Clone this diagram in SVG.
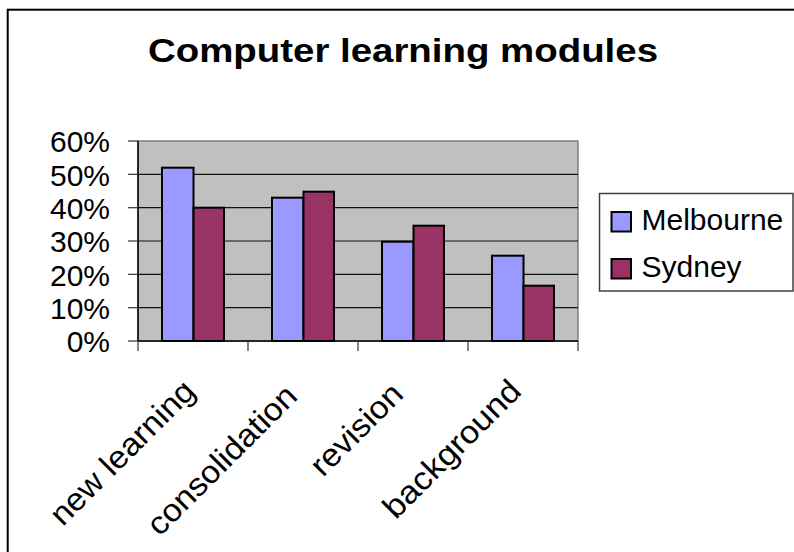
<svg xmlns="http://www.w3.org/2000/svg" width="794" height="552" viewBox="0 0 794 552">
<style>
text{font-family:"Liberation Sans",Arial,sans-serif;fill:#000}
.ylab{font-size:30px;text-anchor:end}
.xlab{font-size:32px;text-anchor:end}
.leg{font-size:30px}
.grid{stroke:#111;stroke-width:1.2}
.tick{stroke:#333;stroke-width:1.2}
.mel{fill:#9999FF;stroke:#000;stroke-width:2}
.syd{fill:#993366;stroke:#000;stroke-width:2}
</style>
<rect x="0" y="0" width="794" height="552" fill="#fff"/>
<rect id="frame" x="7.7" y="9.7" width="800" height="560" fill="none" stroke="#000" stroke-width="2"/>
<g id="title"><text x="148" y="62" font-size="34" font-weight="bold" textLength="510" lengthAdjust="spacingAndGlyphs">Computer learning modules</text></g>
<g id="plot">
<rect x="138" y="141" width="440" height="200" fill="#C0C0C0" stroke="#808080" stroke-width="1.5"/>
<g id="gridlines">
<line class="grid" x1="138" y1="174.3" x2="578" y2="174.3"/>
<line class="grid" x1="138" y1="207.7" x2="578" y2="207.7"/>
<line class="grid" x1="138" y1="241" x2="578" y2="241"/>
<line class="grid" x1="138" y1="274.3" x2="578" y2="274.3"/>
<line class="grid" x1="138" y1="307.7" x2="578" y2="307.7"/>
</g>
</g>
<g id="bars">
<rect class="mel" x="162" y="167.7" width="31.5" height="173.3"/>
<rect class="syd" x="193.5" y="207.7" width="30.5" height="133.3"/>
<rect class="mel" x="272" y="197.7" width="31.5" height="143.3"/>
<rect class="syd" x="303.5" y="191.7" width="30.5" height="149.3"/>
<rect class="mel" x="382" y="241.7" width="31.5" height="99.3"/>
<rect class="syd" x="413.5" y="225.7" width="30.5" height="115.3"/>
<rect class="mel" x="492" y="255.7" width="31.5" height="85.3"/>
<rect class="syd" x="523.5" y="285.7" width="30.5" height="55.3"/>
</g>
<g id="axes">
<line x1="138" y1="141" x2="138" y2="341" stroke="#000" stroke-width="1.5"/>
<line x1="138" y1="341" x2="578" y2="341" stroke="#000" stroke-width="1.5"/>
<line class="tick" x1="128" y1="141" x2="138" y2="141"/>
<line class="tick" x1="128" y1="174.3" x2="138" y2="174.3"/>
<line class="tick" x1="128" y1="207.7" x2="138" y2="207.7"/>
<line class="tick" x1="128" y1="241" x2="138" y2="241"/>
<line class="tick" x1="128" y1="274.3" x2="138" y2="274.3"/>
<line class="tick" x1="128" y1="307.7" x2="138" y2="307.7"/>
<line class="tick" x1="128" y1="341" x2="138" y2="341"/>
<line class="tick" x1="138" y1="341" x2="138" y2="351"/>
<line class="tick" x1="248" y1="341" x2="248" y2="351"/>
<line class="tick" x1="358" y1="341" x2="358" y2="351"/>
<line class="tick" x1="468" y1="341" x2="468" y2="351"/>
<line class="tick" x1="578" y1="341" x2="578" y2="351"/>
</g>
<g id="ylabels">
<text class="ylab" x="110" y="152.3">60%</text>
<text class="ylab" x="110" y="185.6">50%</text>
<text class="ylab" x="110" y="219">40%</text>
<text class="ylab" x="110" y="252.3">30%</text>
<text class="ylab" x="110" y="285.6">20%</text>
<text class="ylab" x="110" y="319">10%</text>
<text class="ylab" x="110" y="352.3">0%</text>
</g>
<g id="xlabels">
<text class="xlab" transform="translate(197,393) rotate(-45)" textLength="190" lengthAdjust="spacingAndGlyphs">new learning</text>
<text class="xlab" transform="translate(299,398) rotate(-45)" textLength="197" lengthAdjust="spacingAndGlyphs">consolidation</text>
<text class="xlab" transform="translate(405,396) rotate(-45)" textLength="116" lengthAdjust="spacingAndGlyphs">revision</text>
<text class="xlab" transform="translate(523,393) rotate(-45)" textLength="180" lengthAdjust="spacingAndGlyphs">background</text>
</g>
<g id="legend">
<rect x="599.5" y="193.5" width="193.5" height="97.5" fill="#fff" stroke="#404040" stroke-width="1.5"/>
<rect class="mel" x="611.5" y="212" width="19.5" height="19.5"/>
<text class="leg" x="641.5" y="230">Melbourne</text>
<rect class="syd" x="611.5" y="259" width="19.5" height="19.5"/>
<text class="leg" x="641.5" y="276.5">Sydney</text>
</g>
</svg>
